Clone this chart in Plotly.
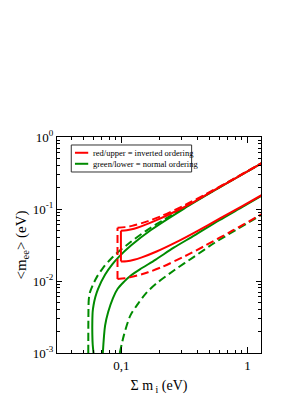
import plotly.graph_objects as go

# ---------------- data ----------------
# Inverted ordering (red), best-fit bounds (solid)
io_sum = [0.099, 0.11, 0.126, 0.145, 0.19, 0.27, 0.38, 0.61, 0.91, 1.30]
io_upper = [0.0500, 0.0508, 0.0532, 0.0578, 0.0700, 0.0930, 0.1270, 0.2040, 0.3030, 0.4320]
io_lower = [0.0187, 0.0188, 0.0197, 0.0213, 0.0257, 0.0344, 0.0471, 0.0745, 0.1100, 0.1560]

# Inverted ordering (red), 3-sigma bounds (dashed)
io3_sum = [0.093, 0.1065, 0.1212, 0.1626, 0.2118, 0.3205, 0.464, 0.7586, 1.205, 1.325]
io3_upper = [0.0550, 0.0560, 0.0583, 0.0678, 0.0812, 0.1140, 0.1597, 0.2559, 0.4037, 0.4434]
io3_lower = [0.0107, 0.0109, 0.0114, 0.0132, 0.0158, 0.0222, 0.0311, 0.0499, 0.0787, 0.0865]

# Normal ordering (green), best-fit bounds (solid)
no_up_sum = [0.0600, 0.0591, 0.0587, 0.0587, 0.0591, 0.0600, 0.0620, 0.0652, 0.0742,
             0.0845, 0.0957, 0.1195, 0.1714, 0.3124, 0.6064, 1.30]
no_up_m = [0.0010, 0.0013, 0.0018, 0.0028, 0.0038, 0.0046, 0.0060, 0.0078, 0.0123,
           0.0170, 0.0218, 0.0313, 0.0510, 0.1005, 0.2004, 0.4320]
no_lo_sum = [0.0711, 0.0741, 0.0784, 0.0856, 0.0933, 0.105, 0.118, 0.14, 0.187,
             0.26, 0.38, 0.6, 0.9, 1.3]
no_lo_m = [0.0010, 0.0024, 0.0037, 0.0058, 0.0078, 0.0098, 0.0118, 0.0145, 0.0198,
           0.0290, 0.0430, 0.0700, 0.1055, 0.1530]

# Normal ordering (green), 3-sigma bounds (dashed)
no3_up_sum = [0.0545, 0.0546, 0.0550, 0.0560, 0.0587, 0.064, 0.0719, 0.083, 0.0922,
              0.1175, 0.16, 0.22, 0.32, 0.47, 0.76, 1.33]
no3_up_m = [0.0010, 0.0030, 0.0055, 0.0068, 0.0085, 0.0115, 0.0155, 0.0205, 0.0245,
            0.0345, 0.0510, 0.0720, 0.1070, 0.1570, 0.2540, 0.4430]
no3_lo_sum = [0.097, 0.1048, 0.1175, 0.136, 0.157, 0.187, 0.264, 0.374, 0.55, 0.8, 1.33]
no3_lo_m = [0.0010, 0.0018, 0.0033, 0.0049, 0.0068, 0.0091, 0.0142, 0.0215, 0.0340,
            0.0505, 0.0855]

# ticks and labels
x_tickvals = [0.1, 1]
x_ticktext = ["0,1", "1"]
x_minor = [0.04, 0.05, 0.06, 0.07, 0.08, 0.09, 0.2, 0.3, 0.4, 0.5, 0.6, 0.7, 0.8, 0.9]
y_tickvals = [0.001, 0.01, 0.1, 1]
y_ticktext = ["10<sup>-3</sup>", "10<sup>-2</sup>", "10<sup>-1</sup>", "10<sup>0</sup>"]
y_minor = [k * d for d in (0.001, 0.01, 0.1) for k in range(2, 10)]
legend_labels = ["red/upper = inverted ordering", "green/lower = normal ordering"]

RED = "#ff0000"
GREEN = "#008b00"
FONT = "Liberation Serif, Times New Roman, serif"
DASH = "8px,4px"

fig = go.Figure()


def add(x, y, color, dash, shape="spline"):
    fig.add_trace(go.Scatter(
        x=x, y=y, mode="lines", showlegend=False, hoverinfo="skip",
        line=dict(color=color, width=2, dash=dash, shape=shape,
                  smoothing=0.8 if shape == "spline" else None)))


# green (normal ordering)
add(no3_up_sum, no3_up_m, GREEN, DASH)
add(no3_lo_sum, no3_lo_m, GREEN, DASH)
add(no_up_sum, no_up_m, GREEN, "solid")
add(no_lo_sum, no_lo_m, GREEN, "solid")

# red (inverted ordering)
add(io3_sum, io3_upper, RED, DASH)
add(io3_sum, io3_lower, RED, DASH)
add([io3_sum[0], io3_sum[0]], [io3_lower[0], io3_upper[0]], RED, DASH, "linear")
add(io_sum, io_upper, RED, "solid")
add(io_sum, io_lower, RED, "solid")
add([io_sum[0], io_sum[0]], [io_lower[0], io_upper[0]], RED, "solid", "linear")

# ---- legend box (drawn by hand to match the original compact legend) ----
L_X0, L_X1, L_Y0, L_Y1 = 0.070, 0.660, 0.838, 0.963
rows_y = [0.927, 0.876]
fig.add_shape(type="rect", xref="paper", yref="paper", x0=L_X0, x1=L_X1, y0=L_Y0, y1=L_Y1,
              line=dict(color="#333333", width=1), fillcolor="white", layer="above")
for yy, col, lab in zip(rows_y, [RED, GREEN], legend_labels):
    fig.add_shape(type="line", xref="paper", yref="paper", x0=0.088, x1=0.153, y0=yy, y1=yy,
                  line=dict(color=col, width=2), layer="above")
    fig.add_annotation(xref="paper", yref="paper", x=0.167, y=yy, xanchor="left",
                       yanchor="middle", text=lab, showarrow=False,
                       font=dict(family=FONT, size=8.5, color="black"))

axis_common = dict(
    type="log", showgrid=False, zeroline=False, showline=True, linecolor="black",
    linewidth=1, mirror="ticks", ticks="inside", tickcolor="black", tickwidth=1,
    tickfont=dict(family=FONT, size=13, color="black"),
)

fig.update_xaxes(
    **axis_common, range=[-1.512, 0.108], tickmode="array", tickvals=x_tickvals,
    ticktext=x_ticktext, ticklen=6,
    minor=dict(tickmode="array", tickvals=x_minor, ticks="inside", ticklen=3,
               tickcolor="black", showgrid=False),
    title=dict(text="Σ m<sub> i</sub> (eV)", font=dict(family=FONT, size=14, color="black"),
               standoff=8),
)
fig.update_yaxes(
    **axis_common, range=[-3, 0], tickmode="array", tickvals=y_tickvals,
    ticktext=y_ticktext, ticklen=5,
    minor=dict(tickmode="array", tickvals=y_minor, ticks="inside", ticklen=3,
               tickcolor="black", showgrid=False),
    title=dict(text="<m<sub>ee</sub>> (eV)", font=dict(family=FONT, size=15, color="black"),
               standoff=2),
)

# the page body adds an 8 px offset, so the margins are reduced accordingly
fig.update_layout(
    width=308, height=399,
    margin=dict(l=38, r=55, t=129, b=54),
    paper_bgcolor="white", plot_bgcolor="white",
    showlegend=False,
)

fig.write_html("out.html")
